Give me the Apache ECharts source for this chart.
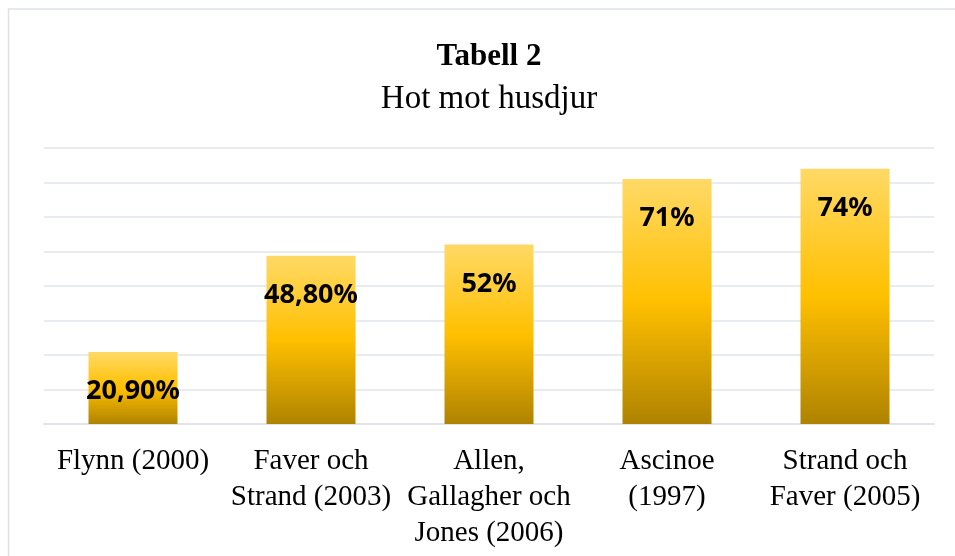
<!DOCTYPE html>
<html>
<head>
<meta charset="utf-8">
<script src="https://cdn.jsdelivr.net/npm/echarts@6/dist/echarts.min.js"></script>
<style>
  html, body { margin: 0; padding: 0; background: #fff; }
  #chart { width: 955px; height: 556px; }
</style>
</head>
<body>
<div id="chart"></div>
<script>
// data
const categories = [
  'Flynn (2000)',
  'Faver och\nStrand (2003)',
  'Allen,\nGallagher och\nJones (2006)',
  'Ascinoe\n(1997)',
  'Strand och\nFaver (2005)'
]
const values = [20.9, 48.8, 52, 71, 74]
const valueLabels = ['20,90%', '48,80%', '52%', '71%', '74%']

const chart = echarts.init(document.getElementById('chart'))

// guldgradient som i Excel
const barFill = new echarts.graphic.LinearGradient(0, 0, 0, 1, [
  { offset: 0, color: '#FFD966' },
  { offset: 0.5, color: '#FFC000' },
  { offset: 1, color: '#AF8300' }
])

const option = {
  backgroundColor: '#ffffff',
  animation: false,
  graphic: [{
    type: 'rect',
    shape: { x: 8.5, y: 9, width: 1000, height: 600 },
    style: { fill: 'none', stroke: '#DDE1E6', lineWidth: 1.5 },
    silent: true
  }],
  title: {
    text: 'Tabell 2',
    subtext: 'Hot mot husdjur',
    // centrerad över plottytan, inte hela fönstret
    left: 484,
    textAlign: 'center',
    top: 36,
    itemGap: 11,
    textStyle: {
      fontFamily: 'Liberation Serif',
      fontWeight: 'bold',
      fontSize: 31,
      color: '#000'
    },
    subtextStyle: {
      fontFamily: 'Liberation Serif',
      fontSize: 33,
      color: '#000'
    }
  },
  grid: { left: 44, right: 21, top: 148, bottom: 132 },
  xAxis: {
    type: 'category',
    data: categories,
    axisTick: { show: false },
    axisLine: { lineStyle: { color: '#DDE1E6', width: 1.5 } },
    axisLabel: {
      interval: 0,
      margin: 19,
      fontFamily: 'Liberation Serif',
      fontSize: 29,
      lineHeight: 36,
      color: '#000'
    }
  },
  yAxis: {
    type: 'value',
    min: 0,
    max: 80,
    interval: 10,
    axisLabel: { show: false },
    axisLine: { show: false },
    axisTick: { show: false },
    splitLine: { lineStyle: { color: '#E1E4EA', width: 1.5 } }
  },
  series: [{
    type: 'bar',
    data: values,
    barWidth: '50%',
    itemStyle: { color: barFill },
    label: {
      show: true,
      position: 'insideTop',
      distance: 26,
      fontFamily: 'Noto Sans',
      fontWeight: 'bold',
      fontSize: 27,
      color: '#000',
      formatter: (p) => valueLabels[p.dataIndex]
    }
  }]
}

chart.setOption(option)
</script>
</body>
</html>
